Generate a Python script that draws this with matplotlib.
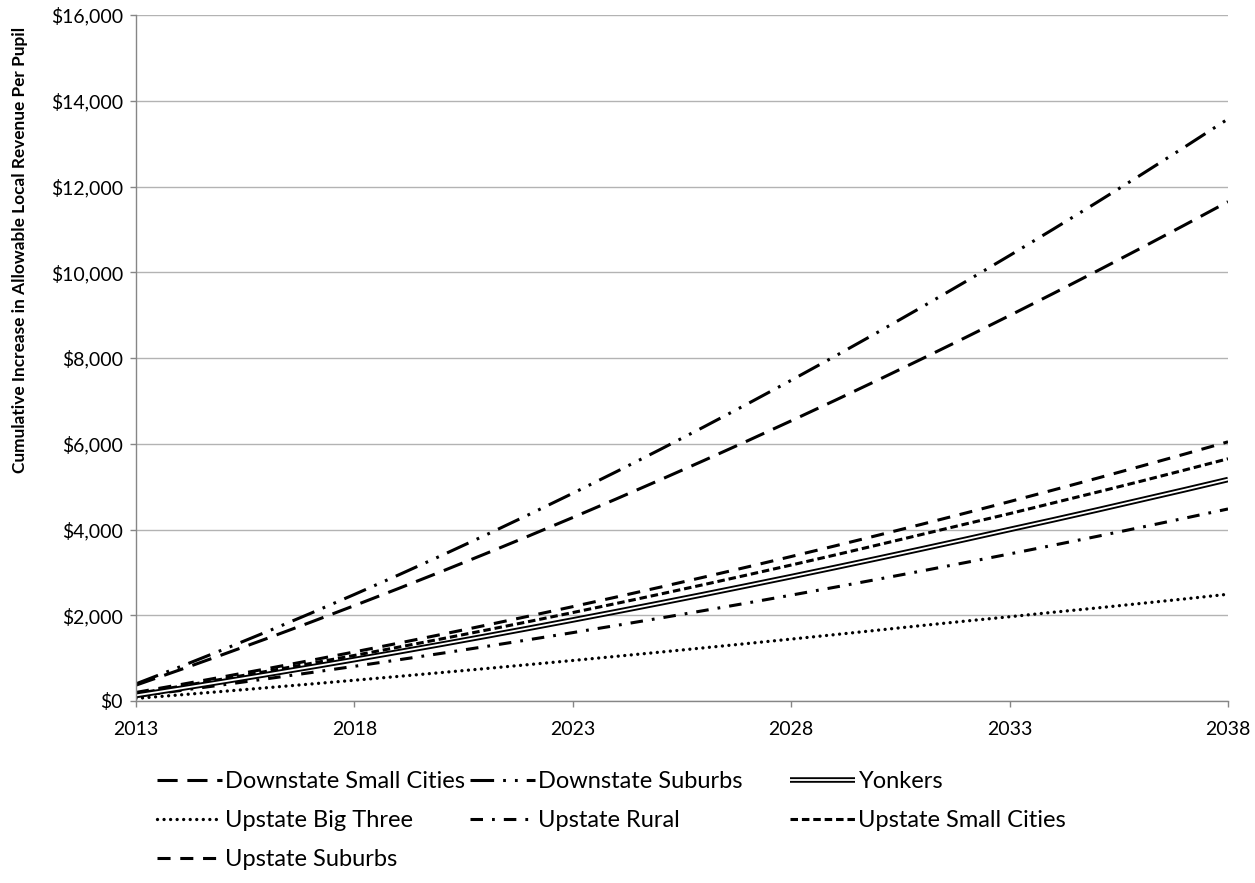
import matplotlib
matplotlib.use('Agg')
import matplotlib.pyplot as plt
from matplotlib import font_manager
from matplotlib.legend_handler import HandlerTuple
from matplotlib.ticker import FuncFormatter, MultipleLocator

plt.rcParams['font.family'] = ['Lato', 'DejaVu Sans']
plt.rcParams['lines.scale_dashes'] = False

years = list(range(2013, 2039))

downstate_small_cities = [370, 725, 1088, 1459, 1838, 2225, 2620, 3023, 3434, 3853,
                          4280, 4715, 5158, 5609, 6068, 6535, 7010, 7493, 7984, 8483,
                          8990, 9505, 10028, 10559, 11098, 11645]
downstate_suburbs = [400, 795, 1201, 1618, 2046, 2485, 2935, 3396, 3868, 4351,
                     4845, 5350, 5866, 6393, 6931, 7480, 8040, 8611, 9193, 9786,
                     10390, 11005, 11631, 12268, 12916, 13575]
yonkers = [130, 290, 454, 621, 792, 966, 1144, 1325, 1510, 1698,
           1890, 2085, 2284, 2486, 2692, 2901, 3114, 3330, 3550, 3773,
           4000, 4225, 4455, 4690, 4925, 5165]
upstate_big_three = [60, 142, 225, 310, 396, 484, 573, 664, 756, 850,
                     945, 1042, 1140, 1240, 1341, 1444, 1548, 1654, 1761, 1865,
                     1965, 2070, 2170, 2275, 2380, 2490]
upstate_rural = [110, 243, 379, 519, 662, 809, 959, 1113, 1270, 1431,
                 1595, 1763, 1934, 2109, 2287, 2469, 2654, 2843, 3035, 3231,
                 3430, 3633, 3839, 4049, 4262, 4479]
upstate_small_cities = [170, 340, 514, 693, 876, 1063, 1254, 1450, 1650, 1854,
                        2063, 2276, 2493, 2715, 2941, 3171, 3405, 3644, 3887, 4130,
                        4370, 4620, 4870, 5125, 5385, 5650]
upstate_suburbs = [200, 380, 565, 754, 947, 1145, 1347, 1554, 1765, 1981,
                   2201, 2426, 2655, 2889, 3127, 3370, 3617, 3869, 4125, 4386,
                   4651, 4921, 5195, 5474, 5757, 6045]

fig = plt.figure(figsize=(12.55, 8.83), dpi=100)
ax = fig.add_axes([136 / 1255, 1 - 701 / 883, (1228 - 136) / 1255, (701 - 15) / 883])

lw = 2.2
kw = dict(color='black', lw=lw, solid_capstyle='butt', dash_capstyle='butt')
l_dsc, = ax.plot(years, downstate_small_cities, dashes=(14.5, 7), **kw)
l_ds, = ax.plot(years, downstate_suburbs, dashes=(17, 6.5, 2, 6.5, 2, 6.5), **kw)
l_ubt, = ax.plot(years, upstate_big_three, color='black', lw=2.4,
                 dashes=(0.01, 4.7), dash_capstyle='round')
l_ur, = ax.plot(years, upstate_rural, dashes=(9, 6.5, 2, 6.5), **kw)
l_usc, = ax.plot(years, upstate_small_cities, dashes=(5.4, 2.8), **kw)
l_us, = ax.plot(years, upstate_suburbs, dashes=(9.4, 7), **kw)
l_y1, = ax.plot(years, yonkers, color='black', lw=4.0, solid_capstyle='butt')
l_y2, = ax.plot(years, yonkers, color='white', lw=1.3, solid_capstyle='butt')

ax.set_xlim(2013, 2038)
ax.set_ylim(0, 16000)
ax.set_xticks(range(2013, 2039, 5))
ax.yaxis.set_major_locator(MultipleLocator(2000))
ax.yaxis.set_major_formatter(FuncFormatter(lambda v, p: '${:,.0f}'.format(v)))
ax.grid(axis='y', color='#b3b3b3', lw=1)
ax.set_axisbelow(True)
for s in ['top', 'right']:
    ax.spines[s].set_visible(False)
for s in ['left', 'bottom']:
    ax.spines[s].set_color('#868686')
    ax.spines[s].set_linewidth(1)
ax.tick_params(axis='both', colors='#868686', labelcolor='black', labelsize=14,
               length=4.3, width=1)
ax.tick_params(axis='y', pad=5)
ax.tick_params(axis='x', pad=10)

# narrow bold font for the axis title if there is one, otherwise Lato
names = {f.name for f in font_manager.fontManager.ttflist}
if 'Liberation Sans Narrow' in names:
    title_font, title_size = ['Liberation Sans Narrow', 'Lato'], 14.5
else:
    title_font, title_size = ['Lato', 'DejaVu Sans'], 12.4
fig.text(20 / 1255, 1 - 250 / 883, 'Cumulative Increase in Allowable Local Revenue Per Pupil',
         rotation=90, ha='center', va='center', fontsize=title_size, fontweight='bold',
         family=title_font)

cols = [
    ([l_dsc, l_ubt, l_us], ['Downstate Small Cities', 'Upstate Big Three', 'Upstate Suburbs'], 157),
    ([l_ds, l_ur], ['Downstate Suburbs', 'Upstate Rural'], 470),
    ([(l_y1, l_y2), l_usc], ['Yonkers', 'Upstate Small Cities'], 790),
]
for handles, labels, x0 in cols:
    fig.legend(handles, labels, loc='upper left', bbox_to_anchor=(x0 / 1255, 1 - 771 / 883),
               frameon=False, fontsize=17, handlelength=2.75, handletextpad=0.15,
               borderpad=0, borderaxespad=0, labelspacing=0.77,
               handler_map={tuple: HandlerTuple(ndivide=1, pad=0)})

fig.savefig('out.png', dpi=100)
